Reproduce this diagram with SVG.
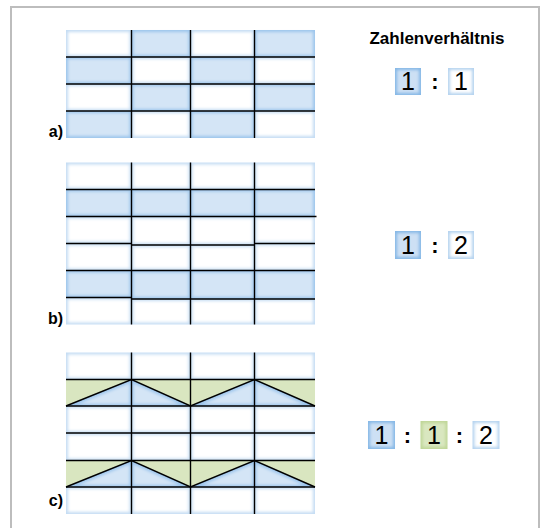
<svg xmlns="http://www.w3.org/2000/svg" width="541" height="528" viewBox="0 0 541 528">
<defs>
<filter id="inner" x="-10%" y="-10%" width="120%" height="120%">
<feMorphology operator="erode" radius="2.2"/>
<feGaussianBlur stdDeviation="1.8"/>
</filter>
<filter id="innerS" x="-10%" y="-10%" width="120%" height="120%">
<feMorphology operator="erode" radius="1.8"/>
<feGaussianBlur stdDeviation="1.5"/>
</filter>
</defs>
<style>
.eb{fill:#9cc5ec}
.ib{fill:#d4e5f6;filter:url(#inner)}
.ew{fill:#c4dcf3}
.iw{fill:#ffffff;filter:url(#inner)}
.g{fill:#d9e6c0}
.ln{stroke:#000;stroke-width:1.4;fill:none}
.lbl{font-family:"Liberation Sans",Arial,sans-serif;font-weight:bold;font-size:16px;fill:#000}
.dig{font-family:"Liberation Sans",Arial,sans-serif;font-size:25px;fill:#000;text-anchor:middle}
.col{font-family:"Liberation Sans",Arial,sans-serif;font-size:22px;font-weight:bold;fill:#000;text-anchor:middle}
.bb{fill:#86b8e6}
.bi{fill:#cde0f4;filter:url(#innerS)}
.we{fill:#b5d3ef}
.wi{fill:#ffffff;filter:url(#innerS)}
.ge{fill:#bfd697}
.gi{fill:#d9e7c0;filter:url(#innerS)}
</style>
<rect id="frame" x="11" y="7" width="528" height="530" fill="#fff" stroke="#bdbdbd" stroke-width="2"/>

<g id="grid-a">
<rect class="ew" x="66" y="30" width="65.5" height="27"/><rect class="iw" x="66" y="30" width="65.5" height="27"/>
<rect class="eb" x="131.5" y="30" width="59" height="27"/><rect class="ib" x="131.5" y="30" width="59" height="27"/>
<rect class="ew" x="190.5" y="30" width="64" height="27"/><rect class="iw" x="190.5" y="30" width="64" height="27"/>
<rect class="eb" x="254.5" y="30" width="60.5" height="27"/><rect class="ib" x="254.5" y="30" width="60.5" height="27"/>
<rect class="eb" x="66" y="57" width="65.5" height="27"/><rect class="ib" x="66" y="57" width="65.5" height="27"/>
<rect class="ew" x="131.5" y="57" width="59" height="27"/><rect class="iw" x="131.5" y="57" width="59" height="27"/>
<rect class="eb" x="190.5" y="57" width="64" height="27"/><rect class="ib" x="190.5" y="57" width="64" height="27"/>
<rect class="ew" x="254.5" y="57" width="60.5" height="27"/><rect class="iw" x="254.5" y="57" width="60.5" height="27"/>
<rect class="ew" x="66" y="84" width="65.5" height="27"/><rect class="iw" x="66" y="84" width="65.5" height="27"/>
<rect class="eb" x="131.5" y="84" width="59" height="27"/><rect class="ib" x="131.5" y="84" width="59" height="27"/>
<rect class="ew" x="190.5" y="84" width="64" height="27"/><rect class="iw" x="190.5" y="84" width="64" height="27"/>
<rect class="eb" x="254.5" y="84" width="60.5" height="27"/><rect class="ib" x="254.5" y="84" width="60.5" height="27"/>
<rect class="eb" x="66" y="111" width="65.5" height="27"/><rect class="ib" x="66" y="111" width="65.5" height="27"/>
<rect class="ew" x="131.5" y="111" width="59" height="27"/><rect class="iw" x="131.5" y="111" width="59" height="27"/>
<rect class="eb" x="190.5" y="111" width="64" height="27"/><rect class="ib" x="190.5" y="111" width="64" height="27"/>
<rect class="ew" x="254.5" y="111" width="60.5" height="27"/><rect class="iw" x="254.5" y="111" width="60.5" height="27"/>
<path class="ln" d="M66 57H315M66 84H315M66 111H315M131.5 30V138M190.5 30V138M254.5 30V138"/>
<text class="lbl" x="63" y="137" text-anchor="end">a)</text>
</g>

<g id="grid-b">
<rect class="ew" x="66" y="162.5" width="249" height="27"/>
<rect class="iw" x="66" y="162.5" width="65.5" height="27"/><rect class="iw" x="131.5" y="162.5" width="59" height="27"/><rect class="iw" x="190.5" y="162.5" width="64" height="27"/><rect class="iw" x="254.5" y="162.5" width="60.5" height="27"/>
<rect class="eb" x="66" y="189.5" width="249" height="27"/>
<rect class="ib" x="66" y="189.5" width="65.5" height="27"/><rect class="ib" x="131.5" y="189.5" width="59" height="27"/><rect class="ib" x="190.5" y="189.5" width="64" height="27"/><rect class="ib" x="254.5" y="189.5" width="60.5" height="27"/>
<rect class="ew" x="66" y="216.5" width="249" height="54"/>
<rect class="iw" x="66" y="216.5" width="65.5" height="27"/><rect class="iw" x="131.5" y="216.5" width="59" height="28.5"/><rect class="iw" x="190.5" y="216.5" width="64" height="28.5"/><rect class="iw" x="254.5" y="216.5" width="60.5" height="27"/>
<rect class="iw" x="66" y="243.5" width="65.5" height="27"/><rect class="iw" x="131.5" y="245" width="59" height="25.5"/><rect class="iw" x="190.5" y="245" width="64" height="25.5"/><rect class="iw" x="254.5" y="243.5" width="60.5" height="27"/>
<rect class="eb" x="66" y="270.5" width="249" height="28.5"/>
<rect class="ib" x="66" y="270.5" width="65.5" height="27"/><rect class="ib" x="131.5" y="270.5" width="59" height="28.5"/><rect class="ib" x="190.5" y="270.5" width="64" height="28.5"/><rect class="ib" x="254.5" y="270.5" width="60.5" height="28.5"/>
<rect class="ew" x="66" y="297.5" width="65.5" height="27"/>
<rect class="ew" x="131.5" y="299" width="183.5" height="25.5"/>
<rect class="iw" x="66" y="297.5" width="65.5" height="27"/><rect class="iw" x="131.5" y="299" width="59" height="25.5"/><rect class="iw" x="190.5" y="299" width="64" height="25.5"/><rect class="iw" x="254.5" y="299" width="60.5" height="25.5"/>
<path class="ln" d="M66 189.5H315M66 216.5H316.5M66 243.5H131.5M131.5 245H254.5M254.5 243.5H315M66 270.5H315M66 297.5H131.5M131.5 299H315M131.5 162.5V324.5M190.5 162.5V324.5M254.5 162.5V324.5"/>
<text class="lbl" x="63" y="324" text-anchor="end">b)</text>
</g>

<g id="grid-c">
<rect class="ew" x="66" y="352.5" width="249" height="27"/>
<rect class="iw" x="66" y="352.5" width="65.5" height="27"/><rect class="iw" x="131.5" y="352.5" width="59" height="27"/><rect class="iw" x="190.5" y="352.5" width="64" height="27"/><rect class="iw" x="254.5" y="352.5" width="60.5" height="27"/>
<rect class="ew" x="66" y="406" width="249" height="54.5"/>
<rect class="iw" x="66" y="406" width="65.5" height="27"/><rect class="iw" x="131.5" y="406" width="59" height="27"/><rect class="iw" x="190.5" y="406" width="64" height="27"/><rect class="iw" x="254.5" y="406" width="60.5" height="27"/>
<rect class="iw" x="66" y="433" width="65.5" height="27.5"/><rect class="iw" x="131.5" y="433" width="59" height="27.5"/><rect class="iw" x="190.5" y="433" width="64" height="27.5"/><rect class="iw" x="254.5" y="433" width="60.5" height="27.5"/>
<rect class="ew" x="66" y="487" width="249" height="27"/>
<rect class="iw" x="66" y="487" width="65.5" height="27"/><rect class="iw" x="131.5" y="487" width="59" height="27"/><rect class="iw" x="190.5" y="487" width="64" height="27"/><rect class="iw" x="254.5" y="487" width="60.5" height="27"/>
<rect class="g" x="66" y="379.5" width="249" height="26.5"/>
<polygon class="eb" points="66,406 131.5,379.5 131.5,406"/><polygon class="ib" points="66,406 131.5,379.5 131.5,406"/>
<polygon class="eb" points="131.5,379.5 190.5,406 131.5,406"/><polygon class="ib" points="131.5,379.5 190.5,406 131.5,406"/>
<polygon class="eb" points="190.5,406 254.5,379.5 254.5,406"/><polygon class="ib" points="190.5,406 254.5,379.5 254.5,406"/>
<polygon class="eb" points="254.5,379.5 315,406 254.5,406"/><polygon class="ib" points="254.5,379.5 315,406 254.5,406"/>
<rect class="g" x="66" y="460.5" width="249" height="26.5"/>
<polygon class="eb" points="66,487 131.5,460.5 131.5,487"/><polygon class="ib" points="66,487 131.5,460.5 131.5,487"/>
<polygon class="eb" points="131.5,460.5 190.5,487 131.5,487"/><polygon class="ib" points="131.5,460.5 190.5,487 131.5,487"/>
<polygon class="eb" points="190.5,487 254.5,460.5 254.5,487"/><polygon class="ib" points="190.5,487 254.5,460.5 254.5,487"/>
<polygon class="eb" points="254.5,460.5 315,487 254.5,487"/><polygon class="ib" points="254.5,460.5 315,487 254.5,487"/>
<path class="ln" d="M66 379.5H315M66 406H315M66 433H315M66 460.5H315M66 487H315M131.5 352.5V514M190.5 352.5V514M254.5 352.5V514"/>
<path class="ln" d="M66 406L131.5 379.5L190.5 406L254.5 379.5L315 406M66 487L131.5 460.5L190.5 487L254.5 460.5L315 487"/>
<text class="lbl" x="63" y="506" text-anchor="end">c)</text>
</g>

<g id="title">
<text class="lbl" x="437" y="44" text-anchor="middle" style="font-size:17px">Zahlenverhältnis</text>
</g>

<g id="ratio-a">
<rect class="bb" x="395" y="68" width="26" height="27"/><rect class="bi" x="395" y="68" width="26" height="27"/>
<text class="dig" x="408" y="90">1</text>
<text class="col" x="435" y="89">:</text>
<rect class="we" x="448" y="68" width="26" height="27"/><rect class="wi" x="448" y="68" width="26" height="27"/>
<text class="dig" x="461" y="90">1</text>
</g>

<g id="ratio-b">
<rect class="bb" x="395" y="231" width="26" height="28"/><rect class="bi" x="395" y="231" width="26" height="28"/>
<text class="dig" x="408" y="254">1</text>
<text class="col" x="435" y="252.5">:</text>
<rect class="we" x="448" y="231" width="26" height="28"/><rect class="wi" x="448" y="231" width="26" height="28"/>
<text class="dig" x="461" y="254">2</text>
</g>

<g id="ratio-c">
<rect class="bb" x="368" y="421" width="27" height="28"/><rect class="bi" x="368" y="421" width="27" height="28"/>
<text class="dig" x="381.5" y="444">1</text>
<text class="col" x="407.5" y="442.5">:</text>
<rect class="ge" x="420.5" y="421" width="27" height="28"/><rect class="gi" x="420.5" y="421" width="27" height="28"/>
<text class="dig" x="434" y="444">1</text>
<text class="col" x="459.5" y="442.5">:</text>
<rect class="we" x="472.5" y="421" width="27" height="28"/><rect class="wi" x="472.5" y="421" width="27" height="28"/>
<text class="dig" x="486" y="444">2</text>
</g>

<g id="connectors"></g>
</svg>
